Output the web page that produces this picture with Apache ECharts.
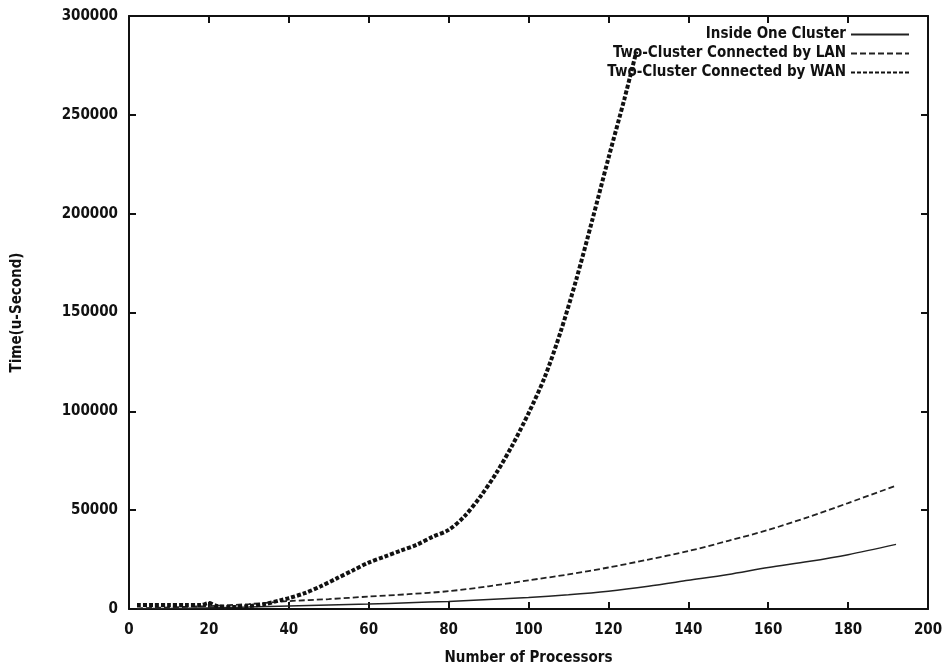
<!DOCTYPE html>
<html lang="en" style="height: 100%">
<head>
  <meta charset="utf-8">
</head>
<body style="height: 100%; margin: 0; background: #fff">
  <div id="container" style="width: 946px; height: 668px"></div>
  <script type="text/javascript" src="https://fastly.jsdelivr.net/npm/echarts@6.0.0/dist/echarts.min.js"></script>
  <script type="text/javascript">
    // values
    var insideX = [2, 10, 20, 30, 40, 50, 60, 70, 80, 90, 100, 110, 120, 130, 140, 150, 160, 170, 180, 192];
    var insideY = [100, 300, 600, 1000, 1500, 2000, 2500, 3200, 3800, 4800, 5800, 7200, 9000, 11500, 14500, 17500, 21000, 24000, 27500, 32700];

    var lanX = [2, 10, 20, 30, 40, 50, 60, 70, 80, 90, 100, 110, 120, 130, 140, 150, 160, 170, 180, 192];
    var lanY = [300, 800, 1500, 2500, 4000, 5000, 6300, 7500, 9000, 11500, 14500, 17500, 21000, 25000, 29300, 34500, 40000, 46500, 53600, 62400];

    var wanX = [2, 6, 10, 14, 18, 20, 22, 26, 30, 34, 38, 40, 44, 48, 52, 56, 60, 64, 68, 72, 76, 80, 84, 88, 92, 96, 100, 104, 108, 112, 116, 120, 124, 127];
    var wanY = [2000, 2000, 2000, 2000, 2000, 3000, 1500, 1000, 1500, 2500, 4500, 5500, 8000, 11500, 15500, 19500, 23500, 26500, 29500, 32500, 36500, 40000, 47000, 57000, 69000, 83000, 99000, 117000, 140000, 167000, 197000, 228000, 258000, 282000];

    var xTicks = { min: 0, max: 200, interval: 20 };
    var yTicks = { min: 0, max: 300000, interval: 50000 };

    function pairs(xs, ys) {
      return xs.map(function (x, i) { return [x, ys[i]]; });
    }

    var dom = document.getElementById('container');
    var myChart = echarts.init(dom, null, { renderer: 'canvas' });

    var font = "'DejaVu Sans Condensed', 'DejaVu Sans'";
    var axisLine = { show: true, onZero: false, lineStyle: { color: '#111', width: 2 } };
    var tick = { show: true, inside: true, length: 7, lineStyle: { color: '#111', width: 2 } };
    var lbl = { color: '#111', fontFamily: font, fontWeight: 'bold', fontSize: 15 };
    var plain = function (v) { return String(v); };

    var option = {
      animation: false,
      backgroundColor: '#fff',
      grid: { left: 129, right: 18, top: 16, bottom: 59, outerBoundsMode: 'none', containLabel: false },
      legend: {
        orient: 'vertical',
        align: 'right',
        right: 31,
        top: 22,
        itemWidth: 58,
        itemHeight: 14,
        itemGap: 4,
        itemStyle: { opacity: 0 },
        textStyle: { color: '#111', fontFamily: font, fontWeight: 'bold', fontSize: 15 },
        data: ['Inside One Cluster', 'Two-Cluster Connected by LAN', 'Two-Cluster Connected by WAN']
      },
      xAxis: [
        {
          type: 'value', min: xTicks.min, max: xTicks.max, interval: xTicks.interval,
          name: 'Number of Processors', nameLocation: 'middle', nameGap: 42,
          nameTextStyle: lbl,
          axisLine: axisLine, axisTick: tick, splitLine: { show: false },
          axisLabel: Object.assign({ margin: 14, formatter: plain }, lbl)
        },
        {
          type: 'value', position: 'top', min: xTicks.min, max: xTicks.max, interval: xTicks.interval,
          axisLine: axisLine, axisTick: tick, splitLine: { show: false },
          axisLabel: { show: false }
        }
      ],
      yAxis: [
        {
          type: 'value', min: yTicks.min, max: yTicks.max, interval: yTicks.interval,
          name: 'Time(u-Second)', nameLocation: 'middle', nameGap: 104, nameRotate: 90,
          nameTextStyle: lbl,
          axisLine: axisLine, axisTick: tick, splitLine: { show: false },
          axisLabel: Object.assign({ margin: 11, formatter: plain }, lbl)
        },
        {
          type: 'value', position: 'right', min: yTicks.min, max: yTicks.max, interval: yTicks.interval,
          axisLine: axisLine, axisTick: tick, splitLine: { show: false },
          axisLabel: { show: false }
        }
      ],
      series: [
        {
          name: 'Inside One Cluster', type: 'line', symbol: 'none', smooth: 0.3,
          data: pairs(insideX, insideY),
          lineStyle: { color: '#222', width: 1.5, type: 'solid' },
          itemStyle: { color: '#222', opacity: 0 }
        },
        {
          name: 'Two-Cluster Connected by LAN', type: 'line', symbol: 'none', smooth: 0.3,
          data: pairs(lanX, lanY),
          lineStyle: { color: '#222', width: 1.8, type: [6, 3] },
          itemStyle: { color: '#222', opacity: 0 }
        },
        {
          name: 'Two-Cluster Connected by WAN', type: 'line', symbol: 'none', smooth: 0.3,
          data: pairs(wanX, wanY),
          lineStyle: { color: '#111', width: 4, type: [4, 2] },
          itemStyle: { color: '#111', opacity: 0 }
        }
      ]
    };

    myChart.setOption(option);
    window.addEventListener('resize', myChart.resize);
  </script>
</body>
</html>
